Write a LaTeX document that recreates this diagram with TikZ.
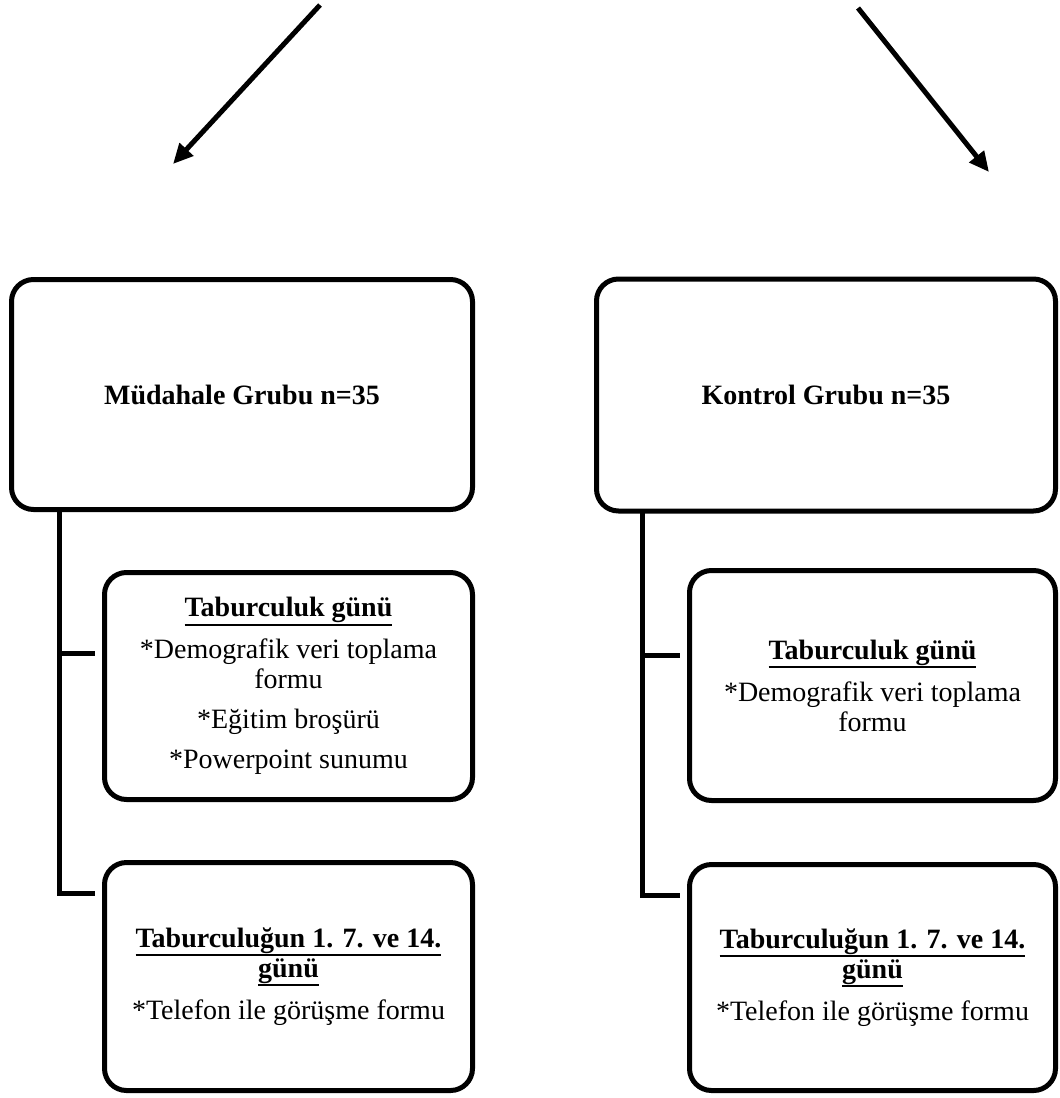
\documentclass[tikz,border=0pt]{standalone}
\usepackage{fontspec}
\setmainfont{Liberation Serif}
\usetikzlibrary{arrows.meta}
\newcommand{\lw}{2.5pt}
\newcommand{\hd}[1]{\setbox0=\hbox{\textbf{#1}}\rlap{\smash{\rule[-4.5pt]{\wd0}{1pt}}}\box0}
\tikzset{
  box/.style={draw=black, line width=\lw, rounded corners=11pt, inner sep=0pt,
    align=center, font=\fontsize{14}{15}\selectfont},
  link/.style={line width=\lw},
  arr/.style={line width=\lw, -{Triangle[length=10pt,width=9pt]}}
}

\begin{document}
\begin{tikzpicture}[x=0.5pt, y=-0.5pt]
    \useasboundingbox (0,0) rectangle (1060,1098);

    % arrows
    \coordinate (la0) at (320,5);
    \coordinate (la1) at (173,164);
    \coordinate (ra0) at (858,8);
    \coordinate (ra1) at (989,172);
    \draw[arr] (la0) -- (la1);
    \draw[arr] (ra0) -- (ra1);

    % left column
    \node[box, minimum width=230.5pt, minimum height=115pt] (lbig) at (242,394.5)
        {\textbf{Müdahale Grubu n=35}};
    \node[box, minimum width=184pt, minimum height=113.5pt] (lsub1) at (288.5,686)
        {\hd{Taburculuk günü}\\[6pt]
         *Demografik veri toplama\\ formu\\[5pt]
         *Eğitim broşürü\\[5pt]
         *Powerpoint sunumu};
    \node[box, minimum width=184pt, minimum height=114pt] (lsub2) at (288.5,976.5)
        {\hd{Taburculuğun 1. 7. ve 14.}\\ \hd{günü}\\[6pt]
         *Telefon ile görüşme formu};

    \coordinate (ltrunk) at (59,509.5);
    \coordinate (ltick1) at (95,653);
    \coordinate (ltick2) at (95,893);
    \draw[link] (ltrunk) |- (ltick2);
    \draw[link] (ltrunk |- ltick1) -- (ltick1);

    % right column
    \node[box, minimum width=229.5pt, minimum height=116pt] (rbig) at (826,395)
        {\textbf{Kontrol Grubu n=35}};
    \node[box, minimum width=183pt, minimum height=115pt] (rsub1) at (872.5,685.5)
        {\hd{Taburculuk günü}\\[6pt]
         *Demografik veri toplama\\ formu};
    \node[box, minimum width=183pt, minimum height=113pt] (rsub2) at (872.5,977.5)
        {\hd{Taburculuğun 1. 7. ve 14.}\\ \hd{günü}\\[6pt]
         *Telefon ile görüşme formu};

    \coordinate (rtrunk) at (642,511);
    \coordinate (rtick1) at (680,655);
    \coordinate (rtick2) at (680,895);
    \draw[link] (rtrunk) |- (rtick2);
    \draw[link] (rtrunk |- rtick1) -- (rtick1);
\end{tikzpicture}
\end{document}
